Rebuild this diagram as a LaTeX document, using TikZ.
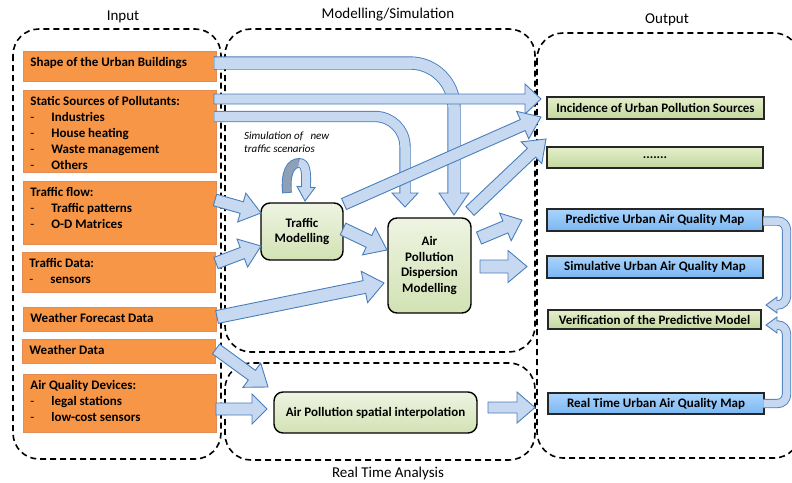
\documentclass[tikz,border=0pt]{standalone}
\usepackage{fontspec}
\setmainfont{Carlito}
\usetikzlibrary{calc}
\definecolor{orfill}{RGB}{247,150,70}
\definecolor{ordraw}{RGB}{228,140,85}
\definecolor{afill}{RGB}{198,217,241}
\definecolor{adraw}{RGB}{74,126,187}
\definecolor{adark}{RGB}{141,160,183}
\definecolor{gtop}{RGB}{238,244,226}
\definecolor{gbot}{RGB}{210,226,180}
\definecolor{gotop}{RGB}{228,238,204}
\definecolor{gobot}{RGB}{196,216,156}
\definecolor{btop}{RGB}{170,212,252}
\definecolor{bbot}{RGB}{122,182,242}
\newcommand\otext[2]{\parbox[t][\dimexpr#1pt-8.6pt\relax][t]{179pt}{\fontsize{13}{16}\selectfont\bfseries\strut#2}}
\newcommand\litem[1]{\\\makebox[21pt][l]{\mdseries -}#1}
% straight block arrow: [opts]{from}{to}{half shaft}{half head}{head length}
\newcommand\barrow[6][]{%
 \coordinate (bahc) at ($(#3)!#6!(#2)$);
 \draw[blockarrow,#1] ($(#2)!#4!90:(#3)$) -- ($(bahc)!#4!90:(#3)$) -- ($(bahc)!#5!90:(#3)$) -- (#3) -- ($(bahc)!#5!-90:(#3)$) -- ($(bahc)!#4!-90:(#3)$) -- ($(#2)!#4!-90:(#3)$) -- cycle;}
% curved block arrow: {shaft width (number)}{start}{middle path}{head base}{tip}{half head}{corner radius}
\newcommand\carrow[7]{%
 \draw[draw=adraw, line width={#1pt+1.8pt}, rounded corners=#7] (#2) #3 -- (#4);
 \draw[draw=adraw, line width=0.9pt] ($(#2)+(0,{#1/2+0.9})$) -- ($(#2)+(0,{-#1/2-0.9})$);
 \draw[blockarrow] ($(#4)!#6!90:(#5)$) -- (#5) -- ($(#4)!#6!-90:(#5)$) -- cycle;
 \draw[draw=afill, line width=#1pt, rounded corners=#7] ($(#2)+(0.45,0)$) #3 -- ($(#4)!1.5pt!(#5)$);}
\begin{document}
\begin{tikzpicture}[x=1pt,y=-1pt,
 grp/.style={draw=black, line width=1.6pt, dash pattern=on 6pt off 4pt, rounded corners=26pt},
 glabel/.style={font=\fontsize{15}{17}\selectfont, inner sep=0pt},
 obox/.style={draw=ordraw, fill=orfill, line width=0.8pt, anchor=north west, inner xsep=7pt, inner ysep=4.3pt},
 outg/.style={draw=black!85, line width=1.6pt, top color=gotop, bottom color=gobot, font=\fontsize{13}{15}\selectfont\bfseries, inner sep=0pt},
 outb/.style={draw=black!85, line width=1.6pt, top color=btop, bottom color=bbot, font=\fontsize{13}{15}\selectfont\bfseries, inner sep=0pt},
 rnode/.style={draw=black, line width=1.4pt, rounded corners=9pt, top color=gtop, bottom color=gbot, align=center, font=\fontsize{13}{15.5}\selectfont\bfseries, inner sep=0pt},
 blockarrow/.style={draw=adraw, fill=afill, line width=0.9pt, line join=miter},
 stxt/.style={font=\fontsize{11}{13}\selectfont\itshape, align=left, inner sep=0pt}]
\useasboundingbox (0,0) rectangle (792,482);
% groups
\draw[grp] (13,29) rectangle (221,459);
\draw[grp] (225,29) rectangle (535,352);
\draw[grp] (225,363) rectangle (535,460);
\draw[grp] (537,33) rectangle (800,458);
\node[glabel] (linput) at (123,17) {Input};
\node[glabel] (lmodel) at (388,15) {Modelling/Simulation};
\node[glabel] (loutput) at (667,20) {Output};
\node[glabel] (lreal) at (388,473) {Real Time Analysis};
% input boxes
\node[obox, minimum width=193pt, minimum height=30pt] (shape) at (23,51) {\otext{30}{Shape of the Urban Buildings}};
\node[obox, minimum width=193pt, minimum height=82pt] (static) at (23,90) {\otext{82}{Static Sources of Pollutants:\litem{Industries}\litem{House heating}\litem{Waste management}\litem{Others}}};
\node[obox, minimum width=193pt, minimum height=63pt] (tflow) at (23,181) {\otext{63}{Traffic flow:\litem{Traffic patterns}\litem{O-D Matrices}}};
\node[obox, minimum width=192pt, minimum height=40pt] (tdata) at (22,252) {\otext{40}{Traffic Data:\litem{sensors}}};
\node[obox, minimum width=193pt, minimum height=24pt] (wfore) at (23,307) {\otext{24}{Weather Forecast Data}};
\node[obox, minimum width=192pt, minimum height=24pt] (wdata) at (22,339) {\otext{24}{Weather Data}};
\node[obox, minimum width=193pt, minimum height=58pt] (aqd) at (23,374) {\otext{58}{Air Quality Devices:\litem{legal stations}\litem{low-cost sensors}}};
% output boxes
\node[outg, minimum width=217pt, minimum height=22pt] (inc) at (655.5,108) {Incidence of Urban Pollution Sources};
\node[outg, minimum width=216pt, minimum height=21pt] (dots) at (655,157.5) {.......};
\node[outb, minimum width=216pt, minimum height=22pt] (pred) at (655,220) {Predictive Urban Air Quality Map};
\node[outb, minimum width=216pt, minimum height=22pt] (simu) at (655,267) {Simulative Urban Air Quality Map};
\node[outg, minimum width=213pt, minimum height=19pt] (veri) at (654.5,319.5) {Verification of the Predictive Model};
\node[outb, minimum width=216pt, minimum height=21pt] (rtm) at (656,403.5) {Real Time Urban Air Quality Map};
% processing nodes
\node[rnode, minimum width=82pt, minimum height=57pt] (tm) at (302,231.5) {Traffic\\Modelling};
\node[rnode, minimum width=83pt, minimum height=95pt] (apd) at (429.5,265.5) {Air\\Pollution\\Dispersion\\Modelling};
\node[rnode, minimum width=203pt, minimum height=41pt] (api) at (375.5,412.5) {Air Pollution spatial interpolation};
\node[stxt, anchor=north west] (simtxt) at (244,132) {Simulation of \ \ new\\traffic scenarios};
% arrow end points
\coordinate (a1s) at (214,63);   \coordinate (a1c) at (454,63);   \coordinate (a1h) at (454,193); \coordinate (a1t) at (454,215);
\coordinate (a2s) at (214,99);   \coordinate (a2t) at (541,99);
\coordinate (a3s) at (214,116.5); \coordinate (a3c) at (405,116.5); \coordinate (a3h) at (405,193); \coordinate (a3t) at (405,207);
\coordinate (a4s) at (215,200);  \coordinate (a4t) at (261,213);
\coordinate (a5s) at (216,263);  \coordinate (a5t) at (261,246);
\coordinate (a6s) at (343,229);  \coordinate (a6t) at (387,250);
\coordinate (a7s) at (344,204);  \coordinate (a7t) at (541,117);
\coordinate (a8s) at (470,211);  \coordinate (a8t) at (546,139);
\coordinate (a9s) at (479,238);  \coordinate (a9t) at (522,220);
\coordinate (a10s) at (480,266.5); \coordinate (a10t) at (527,266.5);
\coordinate (a11s) at (217,317); \coordinate (a11t) at (384,283);
\coordinate (a12s) at (216,349); \coordinate (a12t) at (268,387);
\coordinate (a13s) at (216,409); \coordinate (a13t) at (267,409);
\coordinate (a14s) at (488,407.5); \coordinate (a14t) at (535,407.5);
\coordinate (a15s) at (763,221); \coordinate (a15h) at (777,305); \coordinate (a15t) at (766,305);
\coordinate (a16s) at (763,403.5); \coordinate (a16h) at (777,325); \coordinate (a16t) at (766,325);
% curved arrows
\carrow{11.5}{a1s}{-- (a1c)}{a1h}{a1t}{15pt}{44pt}
\carrow{9.5}{a3s}{-- (a3c)}{a3h}{a3t}{13pt}{30pt}
\barrow{a2s}{a2t}{5pt}{15pt}{16pt}
\barrow{a4s}{a4t}{6pt}{15pt}{20pt}
\barrow{a5s}{a5t}{6pt}{15pt}{20pt}
\barrow{a6s}{a6t}{6.5pt}{15pt}{20pt}
\barrow{a7s}{a7t}{6pt}{15pt}{20pt}
\barrow{a8s}{a8t}{6pt}{15pt}{20pt}
\barrow{a9s}{a9t}{6.5pt}{15pt}{18pt}
\barrow{a10s}{a10t}{6.5pt}{16pt}{19pt}
\barrow{a11s}{a11t}{6.5pt}{16pt}{20pt}
\barrow{a12s}{a12t}{6pt}{15pt}{20pt}
\barrow{a13s}{a13t}{6pt}{15pt}{15pt}
\barrow{a14s}{a14t}{5.5pt}{15.5pt}{18pt}
\carrow{7.5}{a15s}{-- (786.5,221) -- (786.5,305)}{a15h}{a15t}{8pt}{9pt}
\carrow{7.5}{a16s}{-- (786.5,403.5) -- (786.5,325)}{a16h}{a16t}{8pt}{9pt}
% self loop on traffic modelling
\coordinate (slb) at (287,193); \coordinate (slm) at (299,163); \coordinate (slh) at (306,187); \coordinate (slt) at (305,201);
\draw[draw=adraw, line width=9.8pt] (slb) .. controls (285,172) and (291,163) .. (slm) .. controls (306,163) and (306.5,172) .. (slh);
\draw[blockarrow] ($(slh)!9pt!90:(slt)$) -- (slt) -- ($(slh)!9pt!-90:(slt)$) -- cycle;
\draw[draw=adark, line width=8pt] ($(slb)+(0.1,-0.9)$) .. controls (285,172) and (291,163) .. (slm);
\draw[draw=afill, line width=8pt] (slm) .. controls (306,163) and (306.5,172) .. (slh) -- ($(slh)!1.5pt!(slt)$);
\end{tikzpicture}
\end{document}
